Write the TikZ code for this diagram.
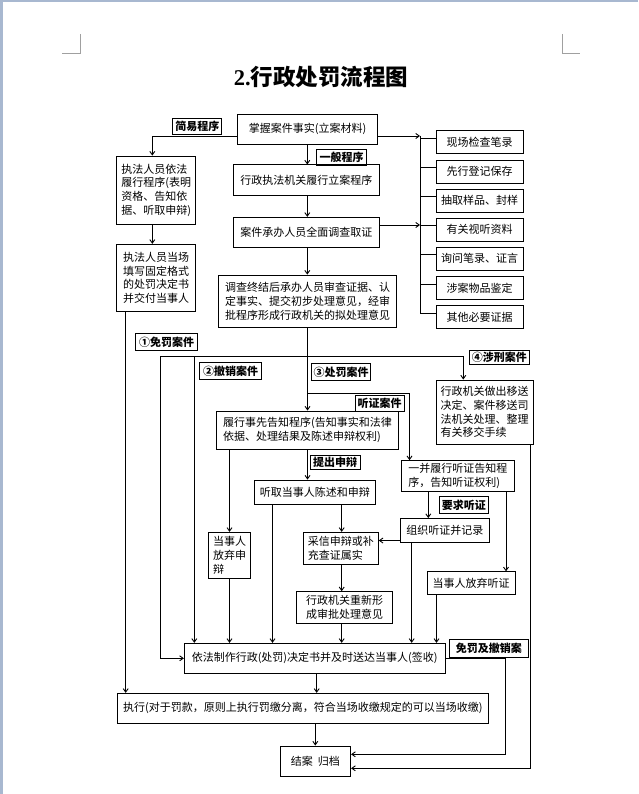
\documentclass[tikz,border=0pt]{standalone}
\usepackage{fontspec}
\newfontfamily\cjk{Noto Sans CJK SC}
\newfontfamily\titleserif{Liberation Serif}
\usetikzlibrary{arrows.meta}
\definecolor{pagebar}{RGB}{168,184,208}
\definecolor{markgray}{RGB}{160,160,160}
\begin{document}
\begin{tikzpicture}[x=1pt,y=-1pt,
  box/.style={draw, line width=0.9pt, inner sep=2pt, align=left,
    font=\cjk\fontsize{11}{13.7}\selectfont},
  lbl/.style={draw, line width=1pt, inner sep=1pt,
    font=\cjk\bfseries\fontsize{11}{13}\selectfont},
  conn/.style={line width=0.9pt},
  arr/.style={conn, -{Straight Barb[length=3.5pt,width=5pt]}},
  rbox/.style={box, minimum width=87.3pt, minimum height=23pt}]
\useasboundingbox (0,0) rectangle (638,794);
% page decorations
\fill[pagebar] (0,0) rectangle (3.3,794);
\fill[pagebar] (0,0) rectangle (638,1.7);
\draw[markgray, line width=1pt] (80.3,34) -- (80.3,53.3) -- (62,53.3);
\draw[markgray, line width=1pt] (562,34) -- (562,53.3) -- (580,53.3);
% title
\node (title) at (321,77) {\fontsize{22.5}{26}\selectfont\bfseries\titleserif 2.\cjk 行政处罚流程图};
% main boxes
\node[box, minimum width=139.6pt, minimum height=30pt] (zhangwo) at (307.5,129.3) {掌握案件事实(立案材料)};
\node[lbl, minimum width=49.3pt, minimum height=16pt] (jianyi) at (197.3,126.3) {简易程序};
\node[box, minimum width=79pt, minimum height=68.3pt] (zhifa1) at (156.2,190.2) {执法人员依法\\履行程序(表明\\资格、告知依\\据、听取申辩)};
\node[lbl, minimum width=50pt, minimum height=15.7pt] (yiban) at (341.7,157.2) {一般程序};
\node[box, minimum width=146pt, minimum height=30.7pt] (lian) at (306.3,180.3) {行政执法机关履行立案程序};
\node[box, minimum width=146pt, minimum height=30pt] (dc) at (306.3,232.3) {案件承办人员全面调查取证};
\node[box, minimum width=79pt, minimum height=67.4pt] (zhifa2) at (156.2,278) {执法人员当场\\填写固定格式\\的处罚决定书\\并交付当事人};
\node[box, minimum width=178.4pt, minimum height=52.3pt] (zj) at (307.5,301.2) {调查终结后承办人员审查证据、认\\定事实、提交初步处理意见，经审\\批程序形成行政机关的拟处理意见};
% right evidence boxes
\node[rbox] (r1) at (479.7,142.2) {现场检查笔录};
\node[rbox] (r2) at (479.7,171.5) {先行登记保存};
\node[rbox] (r3) at (479.7,200.8) {抽取样品、封样};
\node[rbox] (r4) at (479.7,229.8) {有关视听资料};
\node[rbox] (r5) at (479.7,258.8) {询问笔录、证言};
\node[rbox] (r6) at (479.7,288.2) {涉案物品鉴定};
\node[rbox] (r7) at (479.7,317.2) {其他必要证据};
% branch labels
\node[lbl, minimum width=61.6pt, minimum height=16.7pt] (mianfa) at (166.5,342.3) {①免罚案件};
\node[lbl, minimum width=62.4pt, minimum height=17pt] (chexiao) at (230.5,370.8) {②撤销案件};
\node[lbl, minimum width=59pt, minimum height=17.4pt] (chufa) at (341.2,372) {③处罚案件};
\node[lbl, minimum width=60pt, minimum height=14.5pt] (shexing) at (499.3,357.7) {④涉刑案件};
\node[lbl, minimum width=49pt, minimum height=16pt] (tingzheng) at (379.5,403) {听证案件};
% lower boxes
\node[box, minimum width=181.6pt, minimum height=38pt] (gz) at (307.5,430) {履行事先告知程序(告知事实和法律\\依据、处理结果及陈述申辩权利)};
\node[box, minimum width=97pt, minimum height=64pt] (ysx) at (484.5,412) {行政机关做出移送\\决定、案件移送司\\法机关处理、整理\\有关移交手续};
\node[lbl, minimum width=50pt, minimum height=14.3pt] (tichu) at (335,462.2) {提出申辩};
\node[box, minimum width=112.3pt, minimum height=30.3pt] (yb) at (457.8,475.8) {一并履行听证告知程\\序，告知听证权利)};
\node[box, minimum width=121.7pt, minimum height=24.3pt] (tq) at (314.8,492.2) {听取当事人陈述和申辩};
\node[lbl, minimum width=49pt, minimum height=16.6pt] (yaoqiu) at (463.8,505) {要求听证};
\node[box, minimum width=88.8pt, minimum height=23.8pt] (zz) at (444.9,530.4) {组织听证并记录};
\node[box, minimum width=42.4pt, minimum height=46pt] (fq) at (229.5,555.3) {当事人\\放弃申\\辩};
\node[box, minimum width=75pt, minimum height=32pt] (cx) at (340.8,548.3) {采信申辩或补\\充查证属实};
\node[box, minimum width=87.7pt, minimum height=22.3pt] (fqtz) at (471.2,582.9) {当事人放弃听证};
\node[box, minimum width=95.6pt, minimum height=31.6pt] (cx2) at (344.5,607.5) {行政机关重新形\\成审批处理意见};
\node[box, minimum width=260.7pt, minimum height=30pt] (zz2) at (314.7,658.3) {依法制作行政(处罚)决定书并及时送达当事人(签收)};
\node[lbl, minimum width=79pt, minimum height=17.3pt] (mfcx) at (488.8,648.4) {免罚及撤销案};
\node[box, minimum width=371pt, minimum height=30pt] (zx) at (302.8,708.3) {执行(对于罚款，原则上执行罚缴分离，符合当场收缴规定的可以当场收缴)};
\node[box, minimum width=70.7pt, minimum height=30pt] (ja) at (315.3,761) {结案\ \ 归档};
% helper coordinates
\coordinate (a1) at (152.3,136);
\coordinate (rv) at (420,136);
\coordinate (rvb) at (420,313.2);
\coordinate (x307) at (307.3,0);
\coordinate (x1257) at (125.7,0);
\coordinate (h1) at (160.7,356);
\coordinate (h2) at (463.3,356);
\coordinate (h3) at (194.3,356);
\coordinate (h4) at (307.5,393.3);
\coordinate (h5) at (409.5,393.3);
\coordinate (x2725) at (272.5,0);
\coordinate (x3417) at (341.7,0);
\coordinate (x4283) at (428.3,0);
\coordinate (x506) at (506,0);
\coordinate (x4117) at (411.7,0);
\coordinate (x4365) at (436.5,0);
\coordinate (x3167) at (316.7,0);
\coordinate (y540) at (0,540.5);
\coordinate (m1) at (505,754.3);
\coordinate (s1) at (530,768.3);
% connectors: top part
\draw[arr] (zhangwo.west |- a1) -| (a1 |- zhifa1.north);
\draw[arr] (x307 |- zhangwo.south) -- (x307 |- lian.north);
\draw[arr] (zhangwo.east |- rv) -- (rv);
\draw[conn] (rv) -- (rvb);
\foreach \r in {r1,r2,r3,r4,r5,r6,r7}{
  \draw[conn] ([yshift=4pt]\r.west) -- ++(-16,0);
}
\path ([yshift=7.3pt]dc.east) coordinate (dce);
\draw[arr] (dce) -- (rv |- dce);
\draw[arr] (x307 |- lian.south) -- (x307 |- dc.north);
\draw[arr] (x307 |- dc.south) -- (x307 |- zj.north);
\draw[arr] (a1 |- zhifa1.south) -- (a1 |- zhifa2.north);
\draw[arr] (x1257 |- zhifa2.south) -- (x1257 |- zx.north);
% branches
\draw[arr] (zj.south) -- (zj.south |- gz.north);
\draw[conn] (h1) -- (h2);
\draw[arr] (h2) -- (h2 |- ysx.north);
\draw[arr] (h1) |- (zz2.west);
\draw[arr] (h3) -- (h3 |- zz2.north);
\draw[arr] (h4) -- (h5) -- (h5 |- yb.north);
\draw[arr] (fq.north |- gz.south) -- (fq.north);
\draw[arr] (gz.south) -- (gz.south |- tq.north);
\draw[arr] (x2725 |- tq.south) -- (x2725 |- zz2.north);
\draw[arr] (x3417 |- tq.south) -- (x3417 |- cx.north);
\draw[arr] (x4283 |- yb.south) -- (x4283 |- zz.north);
\draw[arr] (x506 |- yb.south) -- (x506 |- fqtz.north);
\draw[arr] (zz.west |- y540) -- (cx.east |- y540);
\draw[arr] (x4117 |- zz.south) -- (x4117 |- zz2.north);
\draw[arr] (x4365 |- fqtz.south) -- (x4365 |- zz2.north);
\draw[arr] (x3417 |- cx.south) -- (x3417 |- cx2.north);
\draw[arr] (x3417 |- cx2.south) -- (x3417 |- zz2.north);
\draw[arr] (fq.south) -- (fq.south |- zz2.north);
% bottom
\draw[arr] (zz2.east) -| (m1) -- (m1 -| ja.east);
\draw[arr] (x3167 |- zz2.south) -- (x3167 |- zx.north);
\draw[arr] (ja.north |- zx.south) -- (ja.north);
\draw[arr] (s1 |- ysx.south) -- (s1) -- (s1 -| ja.east);
\end{tikzpicture}
\end{document}
